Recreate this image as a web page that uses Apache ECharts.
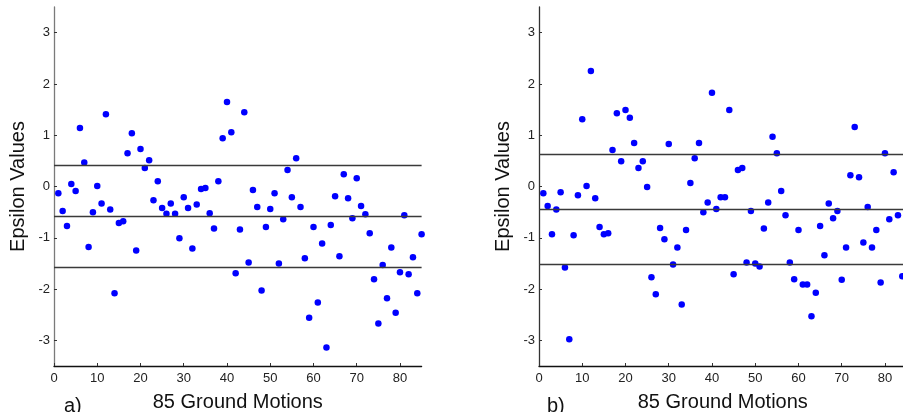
<!DOCTYPE html>
<html>
<head>
<meta charset="utf-8">
<script src="https://cdn.jsdelivr.net/npm/echarts@6/dist/echarts.min.js"></script>
<style>html,body{margin:0;padding:0;background:#fff}#c{width:903px;height:412px}</style>
</head>
<body>
<div id="c"></div>
<script>
// Epsilon values, panel a) (ground motions 1..85)
const epsA = [-0.13,-0.48,-0.77,0.05,-0.09,1.14,0.47,-1.18,-0.50,0.01,
  -0.33,1.41,-0.45,-2.08,-0.71,-0.68,0.65,1.04,-1.25,0.73,
  0.36,0.51,-0.27,0.10,-0.42,-0.53,-0.33,-0.53,-1.01,-0.21,
  -0.42,-1.21,-0.35,-0.05,-0.03,-0.52,-0.82,0.10,0.94,1.65,
  1.06,-1.69,-0.84,1.45,-1.48,-0.07,-0.40,-2.03,-0.79,-0.44,
  -0.13,-1.50,-0.64,0.32,-0.21,0.55,-0.40,-1.40,-2.56,-0.79,
  -2.26,-1.11,-3.14,-0.75,-0.19,-1.36,0.24,-0.23,-0.62,0.16,
  -0.38,-0.54,-0.91,-1.81,-2.67,-1.53,-2.18,-1.19,-2.46,-1.67,
  -0.56,-1.71,-1.38,-2.08,-0.93];
// Epsilon values, panel b) (ground motions 1..84 visible)
const epsB = [-0.13,-0.38,-0.93,-0.45,-0.11,-1.58,-2.98,-0.95,-0.17,1.31,
  0.01,2.25,-0.23,-0.79,-0.93,-0.91,0.71,1.43,0.49,1.49,
  1.34,0.85,0.36,0.49,-0.01,-1.77,-2.10,-0.81,-1.03,0.83,
  -1.52,-1.19,-2.30,-0.85,0.07,0.55,0.85,-0.50,-0.31,1.83,
  -0.44,-0.21,-0.21,1.49,-1.71,0.32,0.36,-1.48,-0.48,-1.50,
  -1.56,-0.82,-0.31,0.97,0.65,-0.09,-0.56,-1.48,-1.81,-0.85,
  -1.91,-1.91,-2.53,-2.07,-0.77,-1.34,-0.33,-0.62,-0.48,-1.82,
  -1.19,0.22,1.16,0.18,-1.09,-0.40,-1.19,-0.85,-1.87,0.65,
  -0.64,0.28,-0.56,-1.75];
// Horizontal reference lines (mean + / - 1 std)
const linesA = [0.41, -0.58, -1.57];
const linesB = [0.62, -0.44, -1.52];
const xTicks = [0,10,20,30,40,50,60,70,80];
const yTicks = [-3,-2,-1,0,1,2,3];
const xTitle = '85 Ground Motions';
const yTitle = 'Epsilon Values';
const panelLabels = ['a)', 'b)'];

const FONT = '"Liberation Sans", Arial, sans-serif';
const toPts = arr => arr.map((v, i) => [i + 1, v]);

function xAx(gi, lineColor) {
  return {
    gridIndex: gi, type: 'value', min: 0, max: 85,
    name: xTitle, nameLocation: 'middle', nameGap: 26,
    nameTextStyle: {fontFamily: FONT, fontSize: 20, color: '#111'},
    axisLine: {show: true, onZero: false, lineStyle: {color: lineColor, width: 1.3}},
    axisTick: {show: true, inside: true, length: 3, customValues: xTicks, lineStyle: {color: '#333'}},
    axisLabel: {customValues: xTicks, fontFamily: FONT, fontSize: 13, color: '#222', margin: 6},
    splitLine: {show: false}
  };
}
function yAx(gi, lineColor) {
  return {
    gridIndex: gi, type: 'value', min: -3.5, max: 3.5,
    name: yTitle, nameLocation: 'middle', nameGap: 26, nameRotate: 90,
    nameTextStyle: {fontFamily: FONT, fontSize: 20, color: '#111'},
    axisLine: {show: true, onZero: false, lineStyle: {color: lineColor, width: 1.3}},
    axisTick: {show: true, inside: true, length: 3, customValues: yTicks, lineStyle: {color: '#333'}},
    axisLabel: {customValues: yTicks, fontFamily: FONT, fontSize: 13, color: '#222', margin: 4},
    splitLine: {show: false}
  };
}
function sc(gi, data, lines) {
  return {
    type: 'scatter', xAxisIndex: gi, yAxisIndex: gi, data: toPts(data),
    symbolSize: 6.5, itemStyle: {color: '#0000ff', opacity: 1},
    silent: true, clip: true,
    markLine: {
      silent: true, symbol: 'none', animation: false,
      label: {show: false},
      lineStyle: {color: '#3a3a3a', width: 1.3, type: 'solid'},
      data: lines.map(v => ({yAxis: v}))
    }
  };
}

const chart = echarts.init(document.getElementById('c'), null, {renderer: 'canvas'});
chart.setOption({
  animation: false,
  backgroundColor: '#ffffff',
  title: [
    {text: panelLabels[0], left: 59, top: 391, textStyle: {fontFamily: FONT, fontSize: 20, fontWeight: 'normal', color: '#111'}},
    {text: panelLabels[1], left: 542, top: 391, textStyle: {fontFamily: FONT, fontSize: 20, fontWeight: 'normal', color: '#111'}}
  ],
  grid: [
    {left: 54, top: 7, width: 367.6, height: 359, containLabel: false, outerBoundsMode: 'none'},
    {left: 539, top: 7, width: 367.6, height: 359, containLabel: false, outerBoundsMode: 'none'}
  ],
  xAxis: [xAx(0, '#111'), xAx(1, '#111')],
  yAxis: [yAx(0, '#7a7a7a'), yAx(1, '#333')],
  series: [sc(0, epsA, linesA), sc(1, epsB, linesB)]
});
</script>
</body>
</html>
